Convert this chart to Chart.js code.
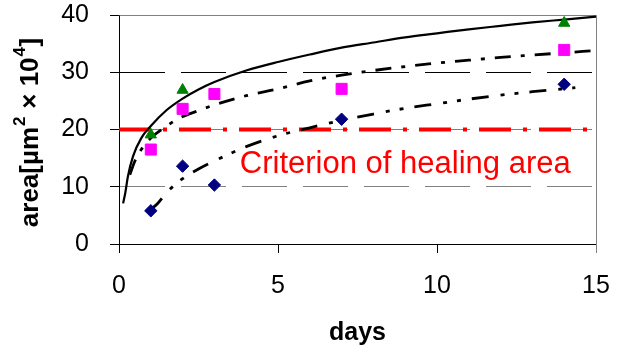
<!DOCTYPE html>
<html>
<head>
<meta charset="utf-8">
<script src="https://cdn.jsdelivr.net/npm/chart.js@4.4.1/dist/chart.umd.min.js"></script>
<style>
  html, body { margin: 0; padding: 0; background: #ffffff; }
  #wrap { width: 619px; height: 353px; }
</style>
</head>
<body>
<div id="wrap"><canvas id="c" width="619" height="353"></canvas></div>
<script>
// ---- data ----
const xTicks = [0, 5, 10, 15];
const yTicks = [0, 10, 20, 30, 40];

const triDays = [1, 2, 14];
const triArea = [19.1, 26.9, 38.6];
const sqDays = [1, 2, 3, 7, 14];
const sqArea = [16.5, 23.6, 26.2, 27.1, 33.9];
const diaDays = [1, 2, 3, 7, 14];
const diaArea = [5.8, 13.6, 10.3, 21.8, 27.9];

// fitted curves
const fitSolidX = [0.13, 0.2, 0.28, 0.44, 0.7, 1, 1.5, 2, 2.5, 3, 4, 5, 6, 7, 8, 9, 10, 11, 12, 13, 14, 15];
const fitSolidY = [7.1, 9.0, 11.8, 15.3, 18.5, 20.6, 23.4, 25.4, 27.0, 28.3, 30.3, 31.8, 33.1, 34.3, 35.2, 36.1, 36.8, 37.5, 38.1, 38.7, 39.2, 39.7];
const fitDashDotX = [0.34, 0.5, 0.7, 1, 1.4, 1.9, 2.5, 3, 4, 5, 6, 7, 8, 9, 10, 11, 12, 13, 14, 15];
const fitDashDotY = [12.1, 14.5, 16.5, 18.5, 20.2, 22.0, 23.3, 24.3, 25.9, 27.1, 28.5, 29.5, 30.3, 31.0, 31.6, 32.1, 32.6, 33.0, 33.4, 33.8];
const fitDashDotDotX = [0.97, 1.2, 1.5, 2, 2.5, 3, 4, 5, 6, 7, 8, 9, 10, 11, 12, 13, 14.35];
const fitDashDotDotY = [5.9, 7.0, 9.0, 11.4, 13.1, 14.5, 17.0, 18.9, 20.3, 21.6, 22.7, 23.7, 24.5, 25.3, 26.0, 26.6, 27.3];

const criterionX = [0, 15];
const criterionY = [20, 20];
const criterionLabel = 'Criterion of healing area';

const xTitle = 'days';
// y title pieces: [text, isSuperscript]
const yTitleParts = [['area[\u00b5m', false], ['2', true], [' \u00d7 10', false], ['4', true], [']', false]];

// ---- helpers ----
function pts(xs, ys) { return xs.map((x, i) => ({ x: x, y: ys[i] })); }

Chart.defaults.font.family = "'Liberation Sans', Arial, sans-serif";
Chart.defaults.color = '#000000';

const FAMILY = "'Liberation Sans', Arial, sans-serif";

const frameAndLabel = {
  id: 'frameAndLabel',
  beforeDatasetsDraw(chart) {
    const { ctx, chartArea: a } = chart;
    ctx.save();
    ctx.strokeStyle = '#808080';
    ctx.lineWidth = 1;
    ctx.beginPath();
    ctx.moveTo(Math.round(a.left) + 0.5, Math.round(a.top) + 0.5);
    ctx.lineTo(Math.round(a.right) + 0.5, Math.round(a.top) + 0.5);
    ctx.lineTo(Math.round(a.right) + 0.5, Math.round(a.bottom) + 9);
    ctx.stroke();
    ctx.restore();
  },
  afterDraw(chart) {
    const { ctx, scales, chartArea: a } = chart;
    // red annotation
    ctx.save();
    ctx.fillStyle = '#ff0000';
    ctx.font = "31px " + FAMILY;
    ctx.textBaseline = 'alphabetic';
    ctx.textAlign = 'left';
    ctx.fillText(criterionLabel, scales.x.getPixelForValue(3.8), scales.y.getPixelForValue(12.36));
    ctx.restore();

    // y-axis title with superscripts
    ctx.save();
    ctx.fillStyle = '#000000';
    ctx.textBaseline = 'alphabetic';
    ctx.textAlign = 'left';
    const mainFont = "bold 26px " + FAMILY;
    const supFont = "bold 17px " + FAMILY;
    let total = 0;
    const widths = yTitleParts.map(([t, sup]) => {
      ctx.font = sup ? supFont : mainFont;
      const w = ctx.measureText(t).width + (sup ? 1.5 : 0);
      total += w;
      return w;
    });
    const cy = (a.top + a.bottom) / 2 + 3;
    ctx.translate(38, cy + total / 2);
    ctx.rotate(-Math.PI / 2);
    let pos = 0;
    yTitleParts.forEach(([t, sup], i) => {
      ctx.font = sup ? supFont : mainFont;
      ctx.fillText(t, pos + (sup ? 1 : 0), sup ? -13 : 0);
      pos += widths[i];
    });
    ctx.restore();
  }
};

new Chart(document.getElementById('c'), {
  type: 'scatter',
  data: {
    datasets: [
      { data: pts(triDays, triArea), pointStyle: 'triangle', pointRadius: 6.5, backgroundColor: '#008000', borderColor: '#008000', borderWidth: 1, showLine: false, order: 1 },
      { data: pts(sqDays, sqArea), pointStyle: 'rect', pointRadius: 7.8, backgroundColor: '#ff00ff', borderColor: '#ff00ff', borderWidth: 1, showLine: false, order: 1 },
      { data: pts(diaDays, diaArea), pointStyle: 'rectRot', pointRadius: 6.2, backgroundColor: '#000080', borderColor: '#000080', borderWidth: 1, showLine: false, order: 1 },
      { data: pts(fitSolidX, fitSolidY), showLine: true, pointRadius: 0, borderColor: '#000000', borderWidth: 2.2, cubicInterpolationMode: 'monotone', order: 2 },
      { data: pts(fitDashDotX, fitDashDotY), showLine: true, pointRadius: 0, borderColor: '#000000', borderWidth: 2.8, borderDash: [16, 10, 4, 10], cubicInterpolationMode: 'monotone', order: 2 },
      { data: pts(fitDashDotDotX, fitDashDotDotY), showLine: true, pointRadius: 0, borderColor: '#000000', borderWidth: 2.8, borderDash: [17, 12, 4, 10, 4, 11], cubicInterpolationMode: 'monotone', order: 2 },
      { data: pts(criterionX, criterionY), showLine: true, pointRadius: 0, borderColor: '#ff0000', borderWidth: 4, borderDash: [32, 12, 4, 12], order: 3 }
    ]
  },
  options: {
    responsive: false,
    animation: false,
    events: [],
    layout: { padding: { top: 15, right: 23, left: 0, bottom: 0 } },
    plugins: { legend: { display: false }, tooltip: { enabled: false } },
    scales: {
      x: {
        type: 'linear', min: 0, max: 15,
        afterFit(s) { s.height = 109; s.paddingLeft = 0; s.paddingRight = 0; s.paddingTop = 0; s.paddingBottom = 0; },
        afterBuildTicks(s) { s.ticks = xTicks.map(v => ({ value: v })); },
        ticks: { font: { size: 25 }, padding: 18, color: '#000000' },
        grid: { drawOnChartArea: false, tickLength: 9,
                tickColor: ctx => (ctx.tick && ctx.tick.value === 15) ? '#808080' : '#000000' },
        border: { color: '#000000', width: 1 },
        title: { display: true, text: xTitle, font: { size: 25, weight: 'bold' }, padding: { top: 0, bottom: 5 }, color: '#000000' }
      },
      y: {
        type: 'linear', min: 0, max: 40,
        afterFit(s) { s.width = 119; s.paddingLeft = 0; s.paddingRight = 0; s.paddingTop = 0; s.paddingBottom = 0; },
        afterBuildTicks(s) { s.ticks = yTicks.map(v => ({ value: v })); },
        ticks: { font: { size: 25 }, padding: 21, color: '#000000' },
        grid: {
          tickLength: 9,
          color: ctx => {
            const v = ctx.tick ? ctx.tick.value : null;
            if (v === 30) return '#000000';
            if (v === 10 || v === 20) return '#808080';
            return 'rgba(0,0,0,0)';
          },
          tickColor: '#000000'
        },
        border: { color: '#000000', width: 1, dash: [45, 16] },
        title: { display: false }
      }
    }
  },
  plugins: [frameAndLabel]
});
</script>
</body>
</html>
